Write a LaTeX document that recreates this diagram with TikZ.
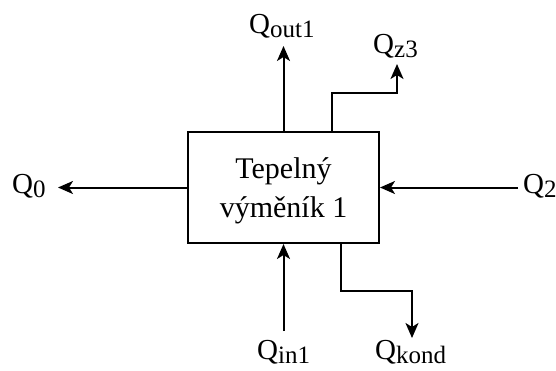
\documentclass[tikz,border=0pt]{standalone}
\usepackage{fontspec}
\setmainfont{Liberation Serif}
\newfontfamily\tnr{Liberation Serif}
\usetikzlibrary{arrows.meta}
\newcommand{\qsub}[1]{\raisebox{-4pt}{\fontsize{25}{25}\selectfont #1}}
\begin{document}
\begin{tikzpicture}[x=1pt,y=-1pt,
  arr/.style={line width=2pt,-{Stealth[length=15pt,width=13pt,inset=4pt]}},
  lbl/.style={inner sep=0pt,anchor=base west,font=\tnr\fontsize{29}{29}\selectfont},
  txt/.style={inner sep=0pt,anchor=base,font=\tnr\fontsize{30}{30}\selectfont},
  blk/.style={draw,line width=2pt,minimum width=191pt,minimum height=111pt,inner sep=0pt}]
\useasboundingbox (0,0) rectangle (556,370);
\node[blk] (box) at (283.5,187.5) {};
\node[txt] (t1) at (283.5,178) {Tepelný};
\node[txt] (t2) at (283.5,217) {výměník 1};
\node[lbl] (q0) at (12,193) {Q\qsub{0}};
\node[lbl] (q2) at (523,193) {Q\qsub{2}};
\node[lbl] (qout) at (249,33) {Q\qsub{out1}};
\node[lbl] (qz) at (373,53) {Q\qsub{z3}};
\node[lbl] (qin) at (257,359) {Q\qsub{in1}};
\node[lbl] (qkond) at (375,359) {Q\qsub{kond}};
\coordinate (t0) at (58,187.5);
\coordinate (s2) at (518,187.5);
\coordinate (tout) at (283.5,46);
\coordinate (tz) at (397,64);
\coordinate (sin) at (283.5,331);
\coordinate (tk) at (412,338);
\draw[arr] (box.west) -- (t0);
\draw[arr] (s2) -- (box.east);
\draw[arr] (box.north) -- (tout);
\draw[arr] ([xshift=48.5pt]box.north) |- (397,93) -- (tz);
\draw[arr] (sin) -- (box.south);
\draw[arr] ([xshift=57.5pt]box.south) |- (412,291) -- (tk);
\end{tikzpicture}
\end{document}
